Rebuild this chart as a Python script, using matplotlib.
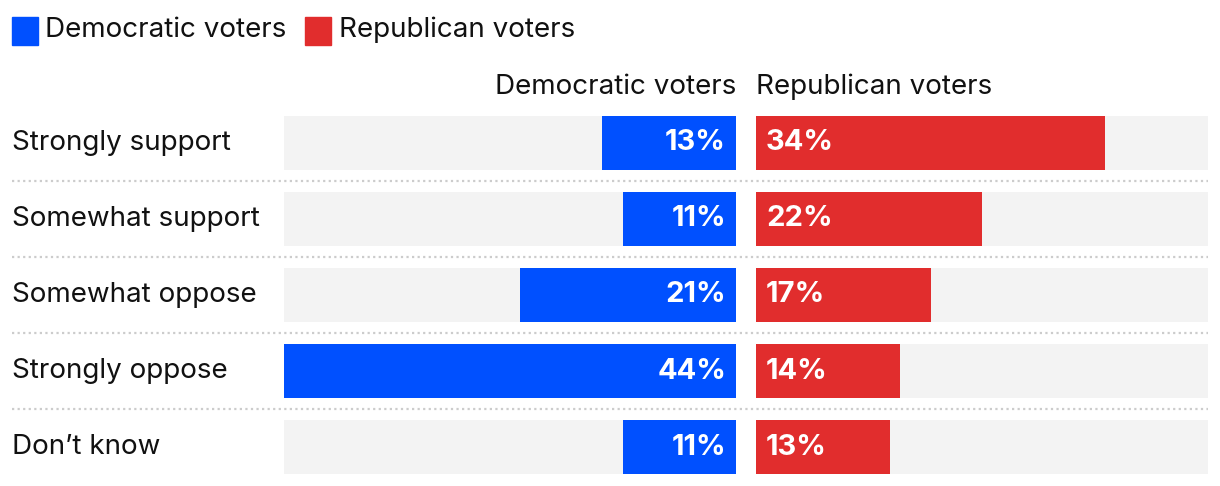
import matplotlib
matplotlib.use("Agg")
import matplotlib.pyplot as plt
from matplotlib.transforms import blended_transform_factory
from matplotlib.patches import Rectangle

categories = ["Strongly support", "Somewhat support", "Somewhat oppose", "Strongly oppose", "Don\u2019t know"]
dem = [13, 11, 21, 44, 11]
rep = [34, 22, 17, 14, 13]
dem_name = "Democratic voters"
rep_name = "Republican voters"

BLUE = "#0050ff"
RED = "#e12d2d"
GRAY = "#f3f3f3"
INK = "#111111"
W, H = 1220, 486
XMAX = 44
FS = 20

plt.rcParams['font.family'] = ['Inter', 'DejaVu Sans']

fig = plt.figure(figsize=(W / 100, H / 100), dpi=100)


def fx(px):
    return px / W


def fy(py):
    return 1 - py / H


# axes: rows centred at 143..447, spacing 76
top, bot = 105, 485
axl = fig.add_axes([fx(284), fy(bot), fx(736 - 284), (bot - top) / H])
axr = fig.add_axes([fx(756), fy(bot), fx(1208 - 756), (bot - top) / H])

n = len(categories)
ys = list(range(n))
bh = 54 / 76

for ax in (axl, axr):
    ax.barh(ys, [XMAX] * n, height=bh, color=GRAY)
    ax.set_xlim(0, XMAX)
    ax.set_ylim(n - 0.5, -0.5)
    ax.axis("off")
axl.invert_xaxis()

axl.barh(ys, dem, height=bh, color=BLUE)
axr.barh(ys, rep, height=bh, color=RED)

# value labels
for y, v in zip(ys, dem):
    axl.annotate(f"{v}%", (0, y), xytext=(-10 * 0.72, 0), textcoords="offset points",
                 ha="right", va="center", color="white", fontsize=21, fontweight="bold")
for y, v in zip(ys, rep):
    axr.annotate(f"{v}%", (0, y), xytext=(10 * 0.72, 0), textcoords="offset points",
                 ha="left", va="center", color="white", fontsize=21, fontweight="bold")

# row labels and separators
tr = blended_transform_factory(fig.transFigure, axl.transData)
for y, c in zip(ys, categories):
    axl.text(fx(12), y, c, transform=tr, ha="left", va="center", fontsize=FS, color=INK)
for i in range(n - 1):
    axl.plot([fx(12), fx(1208)], [i + 0.5, i + 0.5], transform=tr, clip_on=False,
             color="#cccccc", lw=1.6, linestyle=(0, (1, 1.5)))

# column headers
fig.text(fx(736), fy(87), dem_name, ha="right", va="center", fontsize=FS, color=INK)
fig.text(fx(756), fy(87), rep_name, ha="left", va="center", fontsize=FS, color=INK)

# legend
fig.patches.append(Rectangle((fx(12), fy(45)), fx(26), 28 / H, transform=fig.transFigure, color=BLUE))
fig.text(fx(45), fy(30), dem_name, ha="left", va="center", fontsize=FS, color=INK)
fig.patches.append(Rectangle((fx(305), fy(45)), fx(26), 28 / H, transform=fig.transFigure, color=RED))
fig.text(fx(339), fy(30), rep_name, ha="left", va="center", fontsize=FS, color=INK)

fig.savefig("out.png", dpi=100, facecolor="white")
